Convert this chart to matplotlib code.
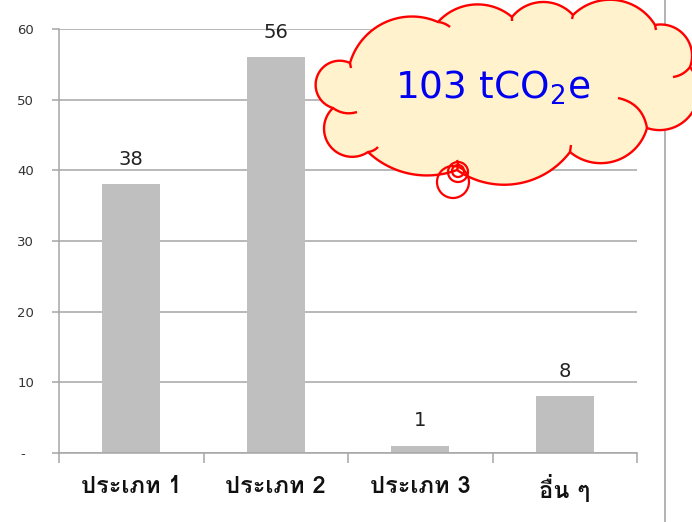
import math
import matplotlib
matplotlib.use("Agg")
import matplotlib.pyplot as plt
from matplotlib import font_manager
from matplotlib.ft2font import FT2Font
from matplotlib.patches import Circle, Polygon
from matplotlib.lines import Line2D

categories = ["ประเภท 1", "ประเภท 2", "ประเภท 3", "อื่น ๆ"]
values = [38, 56, 1, 8]
y_ticks = [0, 10, 20, 30, 40, 50, 60]
total_label = r"103 tCO$_2$e"


def find_thai_font():
    """Return the name of an installed font that has Thai glyphs, if any"""
    for f in font_manager.fontManager.ttflist:
        try:
            if 0x0E1B in FT2Font(f.fname).get_charmap():
                return f.name
        except Exception:
            pass
    return None


def bump(p, q, h, n=40):
    """Points on a circular arc from p to q bulging outward by h pixels"""
    dx, dy = q[0] - p[0], q[1] - p[1]
    c = math.hypot(dx, dy)
    nx, ny = -dy / c, dx / c
    R = ((c / 2) ** 2 + h ** 2) / (2 * h)
    mx, my = (p[0] + q[0]) / 2, (p[1] + q[1]) / 2
    cx, cy = mx - nx * (R - h), my - ny * (R - h)
    a0 = math.atan2(p[1] - cy, p[0] - cx)
    a1 = math.atan2(q[1] - cy, q[0] - cx)
    am = math.atan2(ny, nx)
    d1 = (am - a0) % (2 * math.pi)
    d2 = (a1 - a0) % (2 * math.pi)
    sweep = d2 if d1 < d2 else d2 - 2 * math.pi
    return [(cx + R * math.cos(a0 + sweep * i / n),
             cy + R * math.sin(a0 + sweep * i / n)) for i in range(n + 1)]


def curve(p, q, h, n=20):
    """Quadratic curve from p to q with sideways offset h"""
    dx, dy = q[0] - p[0], q[1] - p[1]
    c = math.hypot(dx, dy)
    nx, ny = -dy / c, dx / c
    kx = (p[0] + q[0]) / 2 + 2 * h * nx
    ky = (p[1] + q[1]) / 2 + 2 * h * ny
    pts = []
    for i in range(n + 1):
        t = i / n
        pts.append(((1 - t) ** 2 * p[0] + 2 * t * (1 - t) * kx + t ** 2 * q[0],
                    (1 - t) ** 2 * p[1] + 2 * t * (1 - t) * ky + t ** 2 * q[1]))
    return pts


thai = find_thai_font()
label_family = [thai, "DejaVu Sans"] if thai else ["DejaVu Sans"]

fig = plt.figure(figsize=(6.92, 5.22), dpi=100)
ax = fig.add_axes([59 / 692, 1 - 453 / 522, 578 / 692, 424 / 522])

x = list(range(len(categories)))
ax.bar(x, values, width=0.4, color="#BFBFBF", zorder=2)
for xi, v in zip(x, values):
    ax.text(xi, v + 2.2, str(v), ha="center", va="bottom", fontsize=14,
            color="#222222", zorder=3)

ax.set_xlim(-0.5, 3.5)
ax.set_ylim(0, 60)
ax.set_yticks(y_ticks)
ax.set_yticklabels(["-  " if t == 0 else str(t) for t in y_ticks],
                   fontsize=9.5, color="#333333")
ax.yaxis.grid(True, color="#A6A6A6", linewidth=1.1, zorder=0)
ax.tick_params(axis="y", length=5, width=1.1, color="#A6A6A6", pad=13)

ax.set_xticks(x)
ax.set_xticklabels(categories, fontsize=17, fontweight="bold",
                   family=label_family, color="#111111")
ax.set_xticks([-0.5, 0.5, 1.5, 2.5, 3.5], minor=True)
ax.tick_params(axis="x", which="major", length=0, pad=16)
ax.tick_params(axis="x", which="minor", length=7, width=1.1, color="#A6A6A6")

for side in ["top", "right"]:
    ax.spines[side].set_visible(False)
for side in ["left", "bottom"]:
    ax.spines[side].set_color("#A6A6A6")
    ax.spines[side].set_linewidth(1.1)

# chart area border on the right
fig.add_artist(Line2D([665 / 692, 665 / 692], [0, 1], color="#A6A6A6",
                      linewidth=1.2, transform=fig.transFigure))

# cloud callout, drawn in pixel coordinates
ov = fig.add_axes([0, 0, 1, 1], zorder=5)
ov.set_xlim(0, 692)
ov.set_ylim(522, 0)
ov.axis("off")

notches = [(350, 63), (333, 108), (368, 152), (457, 170), (570, 152),
           (647, 128), (690, 67), (655, 25), (573, 15), (512, 17), (438, 22)]
heights = [26, 26, 13, 23, 22, 28, 16, 20, 14, 15, 22]
# short inner strokes of the cloud: start, end, sideways offset
inner = [((333, 108), (357, 112), 3), ((368, 152), (378, 147), 1),
         ((457, 170), (457, 160), 1), ((570, 152), (571, 145), 0),
         ((647, 128), (618, 98), 7), ((690, 67), (673, 77), -2),
         ((655, 25), (656, 30), 0), ((573, 15), (572, 19), 0),
         ((512, 17), (512, 21), 0), ((438, 22), (450, 27), -1),
         ((350, 63), (351, 68), 0)]

outline = []
for i, (p, h) in enumerate(zip(notches, heights)):
    q = notches[(i + 1) % len(notches)]
    outline.extend(bump(p, q, h)[:-1])

fill = "#FFF2CC"
edge = "red"
ov.add_patch(Polygon(outline, closed=True, facecolor=fill, edgecolor=edge,
                     linewidth=1.7, joinstyle="round"))
for p, q, h in inner:
    s = curve(p, q, h)
    ov.plot([pt[0] for pt in s], [pt[1] for pt in s], color=edge,
            linewidth=1.7, solid_capstyle="butt")

# thought bubbles
for (cx, cy), r in [((453, 182), 16), ((458, 172), 10), ((458, 171), 6)]:
    ov.add_patch(Circle((cx, cy), r, facecolor="none", edgecolor=edge,
                        linewidth=1.6))

ov.text(493, 88, total_label, ha="center", va="center", fontsize=27,
        color="#0000F0")

plt.savefig("out.png", dpi=100)
